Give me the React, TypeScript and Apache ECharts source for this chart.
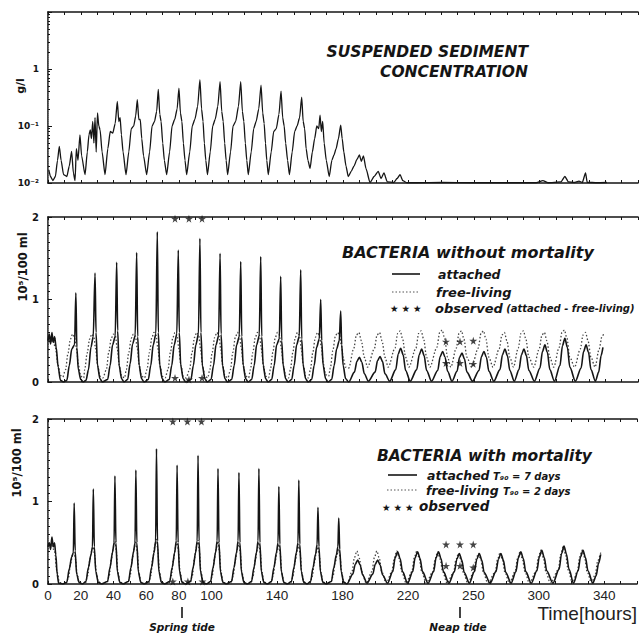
import React, { useEffect, useRef } from "react";
import * as echarts from "echarts";

// ---------- data (time in hours, value) ----------
const sediment: [number, number][] = [
  [0.5, 0.017], [1.5, 0.013], [3, 0.011], [4.5, 0.013], [5.8, 0.025], [6.9, 0.044], [8, 0.025], [9.5, 0.014],
  [11.5, 0.013], [13, 0.02], [14.4, 0.036], [15.5, 0.015], [16.5, 0.011], [17.3, 0.04], [18.3, 0.025], [19.5, 0.07],
  [20.5, 0.03], [22.6, 0.014], [24, 0.035], [25, 0.07], [25.8, 0.085], [26.5, 0.06], [27.3, 0.12], [28, 0.05],
  [28.7, 0.14], [29.4, 0.035], [30.2, 0.17], [31, 0.1], [31.8, 0.085], [33, 0.035], [34.8, 0.014],
  [36.5, 0.04], [38, 0.08], [39.5, 0.075], [41, 0.11], [42.3, 0.27], [43.2, 0.12], [44, 0.14], [44.8, 0.07], [45.8, 0.035], [47.6, 0.014],
  [49.3, 0.035], [50.8, 0.09], [52.3, 0.1], [53.5, 0.15], [54.5, 0.29], [55.4, 0.13], [56.3, 0.13], [57.2, 0.06], [58.3, 0.03], [60.2, 0.014],
  [62, 0.035], [63.5, 0.1], [65, 0.12], [66.3, 0.18], [67.3, 0.44], [68.2, 0.16], [69, 0.12], [70, 0.05], [71, 0.025], [72.4, 0.014],
  [74.2, 0.035], [75.7, 0.1], [77.3, 0.13], [78.8, 0.2], [79.9, 0.46], [80.8, 0.17], [81.7, 0.12], [82.6, 0.05], [83.6, 0.025], [84.6, 0.014],
  [86.5, 0.035], [88, 0.1], [89.6, 0.13], [91.3, 0.22], [92.7, 0.65], [93.7, 0.2], [94.6, 0.12], [95.4, 0.05], [96.3, 0.025], [97.3, 0.014],
  [99, 0.035], [100.5, 0.1], [102, 0.13], [103.6, 0.22], [105, 0.6], [106, 0.18], [106.9, 0.12], [107.8, 0.05], [108.7, 0.025], [109.6, 0.014],
  [111.4, 0.035], [112.9, 0.1], [114.5, 0.12], [116.2, 0.22], [117.6, 0.6], [118.6, 0.18], [119.5, 0.12], [120.4, 0.05], [121.3, 0.025], [122.2, 0.014],
  [124, 0.035], [125.5, 0.09], [127, 0.12], [128.6, 0.2], [130, 0.52], [131, 0.17], [131.9, 0.11], [132.7, 0.05], [133.5, 0.025], [134.4, 0.014],
  [136.2, 0.035], [137.7, 0.08], [139.3, 0.09], [140.9, 0.16], [142.2, 0.41], [143.2, 0.14], [144.1, 0.1], [145, 0.05], [146.2, 0.025], [147.3, 0.014],
  [149, 0.035], [150.5, 0.08], [152, 0.1], [153.5, 0.14], [154.8, 0.32], [155.7, 0.12], [156.6, 0.09], [157.5, 0.04], [158.6, 0.025], [159.9, 0.018],
  [161.3, 0.035], [162.7, 0.06], [164, 0.1], [165.2, 0.09], [166, 0.155], [166.8, 0.08], [167.6, 0.12], [168.5, 0.05], [169.8, 0.025], [171.6, 0.013],
  [173.2, 0.025], [174.5, 0.031], [175.8, 0.04], [177.2, 0.06], [178.6, 0.104], [179.5, 0.06], [180.5, 0.035], [181.8, 0.02], [183.2, 0.013],
  [185, 0.016], [186.8, 0.02], [188.5, 0.026], [190, 0.031], [191.2, 0.024], [192.5, 0.03], [194, 0.018], [196.5, 0.0102],
  [199, 0.013], [201.5, 0.016], [203.2, 0.012], [205, 0.015], [207, 0.0105],
  [211, 0.0102], [213, 0.012], [214.8, 0.014], [216.5, 0.011], [219, 0.0101],
  [225, 0.0101], [240, 0.0102], [260, 0.0101], [280, 0.0101], [298, 0.0101], [302, 0.011], [305, 0.0101],
  [313, 0.0105], [315.4, 0.013], [317.5, 0.0105], [321, 0.0102], [324, 0.0108], [326, 0.0102], [328, 0.015],
  [329, 0.0103], [335, 0.0101], [341, 0.0102],
];

// Middle panel: bacteria without mortality
const attachedNoMort: [number, number][] = [
  [0, 0.5], [0.8, 0.58], [1.6, 0.46], [2.4, 0.6], [3.2, 0.48], [4, 0.55], [5, 0.42], [6.2, 0.18], [7.6, 0.02], [9.5, 0],
  [11.5, 0.02], [13, 0.2], [14.5, 0.4], [16.2, 0.45], [17, 1.08], [17.6, 0.42], [18.5, 0.15], [20, 0.03], [21.5, 0],
  [23.2, 0.02], [24.7, 0.15], [26.2, 0.42], [27.6, 0.55], [28.7, 1.32], [29.3, 0.6], [30.2, 0.2], [31.7, 0.04], [33.2, 0],
  [36.4, 0.03], [37.9, 0.2], [39.4, 0.45], [41, 0.55], [41.9, 1.45], [42.5, 0.62], [43.4, 0.2], [44.9, 0.04], [46.4, 0],
  [48.6, 0.03], [50.1, 0.22], [51.6, 0.46], [53.2, 0.56], [54.1, 1.57], [54.7, 0.55], [55.6, 0.2], [57.1, 0.04], [58.6, 0],
  [61.2, 0.03], [62.7, 0.2], [64.2, 0.45], [65.8, 0.58], [66.7, 1.82], [67.3, 0.6], [68.2, 0.2], [69.7, 0.04], [71.2, 0],
  [74, 0.03], [75.5, 0.2], [77, 0.45], [78.6, 0.58], [79.5, 1.6], [80.1, 0.6], [81, 0.2], [82.5, 0.04], [84, 0],
  [87.2, 0.03], [88.7, 0.2], [90.2, 0.45], [91.8, 0.58], [92.7, 1.74], [93.3, 0.6], [94.2, 0.2], [95.7, 0.04], [97.2, 0],
  [99.5, 0.03], [101, 0.2], [102.5, 0.45], [104.1, 0.56], [105, 1.56], [105.6, 0.58], [106.5, 0.2], [108, 0.04], [109.5, 0],
  [112.1, 0.03], [113.6, 0.2], [115.1, 0.45], [116.7, 0.55], [117.6, 1.46], [118.2, 0.55], [119.1, 0.2], [120.6, 0.04], [122.1, 0],
  [124.3, 0.03], [125.8, 0.2], [127.3, 0.45], [128.9, 0.56], [129.8, 1.52], [130.4, 0.55], [131.3, 0.2], [132.8, 0.04], [134.3, 0],
  [136.5, 0.03], [138, 0.2], [139.5, 0.45], [141.1, 0.52], [142, 1.28], [142.6, 0.5], [143.5, 0.2], [145, 0.04], [146.5, 0],
  [148.7, 0.03], [150.2, 0.2], [151.7, 0.45], [153.3, 0.55], [154.2, 1.36], [154.8, 0.52], [155.7, 0.2], [157.2, 0.04], [158.7, 0],
  [160.9, 0.03], [162.4, 0.2], [163.9, 0.42], [165.5, 0.52], [166.4, 1.0], [167, 0.5], [167.9, 0.2], [169.4, 0.04], [170.9, 0],
  [173.1, 0.03], [174.6, 0.2], [176.1, 0.4], [177.7, 0.5], [178.6, 0.86], [179.2, 0.45], [180.1, 0.2], [181.6, 0.04], [183.5, 0],
  [187, 0.12], [188.5, 0.25], [190, 0.3], [191.5, 0.24], [193, 0.1], [195.5, 0.01],
  [199.6, 0.12], [201.1, 0.26], [202.6, 0.31], [204.1, 0.25], [205.6, 0.1], [208.5, 0.01],
  [212.2, 0.15], [213.7, 0.34], [215.2, 0.41], [216.7, 0.33], [218.2, 0.14], [221, 0.01],
  [225, 0.15], [226.5, 0.33], [228, 0.4], [229.5, 0.32], [231, 0.14], [234, 0.01],
  [237.8, 0.14], [239.3, 0.31], [240.8, 0.37], [242.3, 0.3], [243.8, 0.13], [246.5, 0.01],
  [249.6, 0.13], [251.1, 0.3], [252.6, 0.35], [254.1, 0.28], [255.6, 0.12], [259, 0.01],
  [263, 0.14], [264.5, 0.31], [266, 0.37], [267.5, 0.3], [269, 0.13], [272, 0.01],
  [275.8, 0.15], [277.3, 0.33], [278.8, 0.4], [280.3, 0.32], [281.8, 0.14], [284.5, 0.01],
  [287.4, 0.15], [288.9, 0.33], [290.4, 0.4], [291.9, 0.32], [293.4, 0.14], [296.8, 0.01],
  [300.2, 0.17], [301.7, 0.37], [303.2, 0.45], [304.7, 0.36], [306.2, 0.15], [309, 0.01],
  [312.4, 0.2], [313.9, 0.44], [315.4, 0.53], [316.9, 0.42], [318.4, 0.18], [321.8, 0.01],
  [325.3, 0.17], [326.8, 0.37], [328.3, 0.45], [329.8, 0.36], [331.3, 0.15], [334, 0.01],
  [336, 0.12], [337.5, 0.32], [338.6, 0.42],
];

const freeNoMort: [number, number][] = [
  [0, 0.45], [1.5, 0.55], [3, 0.5], [4.5, 0.42], [6, 0.22], [7.5, 0.08], [9, 0.06],
  [10.7, 0.15], [12.2, 0.35], [13.7, 0.52], [15, 0.58], [16.2, 0.55], [17.4, 0.4], [18.6, 0.2], [20, 0.07], [21.8, 0.05],
  [22.4, 0.15], [23.9, 0.35], [25.4, 0.52], [26.7, 0.58], [27.9, 0.55], [29.1, 0.4], [30.3, 0.2], [31.7, 0.07], [33.5, 0.05],
  [35.6, 0.15], [37.1, 0.36], [38.6, 0.53], [39.9, 0.58], [41.1, 0.56], [42.3, 0.4], [43.5, 0.2], [44.9, 0.07], [46.7, 0.05],
  [47.8, 0.15], [49.3, 0.36], [50.8, 0.53], [52.1, 0.58], [53.3, 0.56], [54.5, 0.4], [55.7, 0.2], [57.1, 0.07], [58.9, 0.05],
  [60.4, 0.15], [61.9, 0.36], [63.4, 0.54], [64.7, 0.6], [65.9, 0.57], [67.1, 0.4], [68.3, 0.2], [69.7, 0.07], [71.5, 0.05],
  [73.2, 0.15], [74.7, 0.36], [76.2, 0.54], [77.5, 0.6], [78.7, 0.57], [79.9, 0.4], [81.1, 0.2], [82.5, 0.07], [84.3, 0.05],
  [86.4, 0.15], [87.9, 0.36], [89.4, 0.54], [90.7, 0.6], [91.9, 0.57], [93.1, 0.4], [94.3, 0.2], [95.7, 0.07], [97.5, 0.05],
  [98.7, 0.15], [100.2, 0.36], [101.7, 0.54], [103, 0.6], [104.2, 0.57], [105.4, 0.4], [106.6, 0.2], [108, 0.07], [109.8, 0.05],
  [111.3, 0.15], [112.8, 0.36], [114.3, 0.54], [115.6, 0.6], [116.8, 0.57], [118, 0.4], [119.2, 0.2], [120.6, 0.07], [122.4, 0.05],
  [123.5, 0.15], [125, 0.36], [126.5, 0.54], [127.8, 0.6], [129, 0.57], [130.2, 0.4], [131.4, 0.2], [132.8, 0.07], [134.6, 0.05],
  [135.7, 0.15], [137.2, 0.36], [138.7, 0.54], [140, 0.6], [141.2, 0.57], [142.4, 0.4], [143.6, 0.2], [145, 0.07], [146.8, 0.05],
  [147.9, 0.15], [149.4, 0.36], [150.9, 0.54], [152.2, 0.6], [153.4, 0.57], [154.6, 0.4], [155.8, 0.2], [157.2, 0.07], [159, 0.05],
  [160.1, 0.15], [161.6, 0.36], [163.1, 0.54], [164.4, 0.6], [165.6, 0.57], [166.8, 0.42], [168, 0.22], [169.4, 0.09], [171.2, 0.07],
  [172.3, 0.17], [173.8, 0.38], [175.3, 0.55], [176.6, 0.6], [177.8, 0.58], [179, 0.45], [180.2, 0.28], [181.6, 0.18], [183.5, 0.17],
  [186.5, 0.4], [188.2, 0.57], [189.7, 0.6], [191.2, 0.5], [193, 0.3], [195, 0.18],
  [199.1, 0.4], [200.8, 0.57], [202.3, 0.6], [203.8, 0.5], [205.6, 0.3], [207.6, 0.18],
  [211.7, 0.41], [213.4, 0.59], [214.9, 0.62], [216.4, 0.52], [218.2, 0.3], [220.2, 0.18],
  [224.5, 0.41], [226.2, 0.59], [227.7, 0.62], [229.2, 0.52], [231, 0.3], [233, 0.18],
  [237.3, 0.42], [239, 0.6], [240.5, 0.63], [242, 0.53], [243.8, 0.3], [245.8, 0.18],
  [249.1, 0.41], [250.8, 0.59], [252.3, 0.62], [253.8, 0.52], [255.6, 0.3], [258.5, 0.18],
  [262.5, 0.41], [264.2, 0.59], [265.7, 0.62], [267.2, 0.52], [269, 0.3], [271.5, 0.18],
  [275.3, 0.4], [277, 0.57], [278.5, 0.6], [280, 0.5], [281.8, 0.3], [284, 0.18],
  [286.9, 0.41], [288.6, 0.59], [290.1, 0.62], [291.6, 0.52], [293.4, 0.3], [296.4, 0.18],
  [299.7, 0.4], [301.4, 0.57], [302.9, 0.6], [304.4, 0.5], [306.2, 0.3], [308.6, 0.18],
  [311.9, 0.42], [313.6, 0.6], [315.1, 0.63], [316.6, 0.53], [318.4, 0.3], [321.3, 0.18],
  [324.8, 0.4], [326.5, 0.57], [328, 0.6], [329.5, 0.5], [331.3, 0.3], [333.8, 0.18],
  [336.3, 0.4], [338, 0.55], [339, 0.58],
];

const observedNoMort: [number, number][] = [
  [2.5, 0.52],
  [77.5, 1.98], [86, 1.98], [94, 1.98],
  [77.5, 0.05], [86, 0.03], [94, 0.05],
  [242.8, 0.49], [251.4, 0.49], [259.5, 0.5],
  [242.8, 0.23], [251.4, 0.23], [259.5, 0.22],
];

// Bottom panel: bacteria with mortality
const attachedMort: [number, number][] = [
  [0, 0.45], [0.8, 0.5], [1.6, 0.42], [2.4, 0.57], [3.2, 0.45], [4, 0.5], [4.8, 0.35], [5.6, 0.12], [6.5, 0.01], [9, 0],
  [11.5, 0.02], [13, 0.18], [14.5, 0.33], [15.5, 0.38], [16, 0.98], [16.6, 0.4], [17.5, 0.12], [19, 0.02], [21, 0],
  [23.2, 0.03], [24.7, 0.2], [26.2, 0.35], [27.2, 0.45], [27.7, 1.15], [28.3, 0.45], [29.2, 0.15], [30.7, 0.02], [32.7, 0],
  [36.4, 0.03], [37.9, 0.2], [39.4, 0.38], [40.4, 0.5], [40.9, 1.31], [41.5, 0.5], [42.4, 0.15], [43.9, 0.02], [45.9, 0],
  [49.2, 0.03], [50.7, 0.2], [52.2, 0.38], [53.2, 0.5], [53.7, 1.38], [54.3, 0.5], [55.2, 0.15], [56.7, 0.02], [58.7, 0],
  [61.8, 0.03], [63.3, 0.2], [64.8, 0.38], [65.8, 0.52], [66.3, 1.64], [66.9, 0.52], [67.8, 0.15], [69.3, 0.02], [71.3, 0],
  [74.4, 0.03], [75.9, 0.2], [77.4, 0.38], [78.4, 0.52], [78.9, 1.44], [79.5, 0.5], [80.4, 0.15], [81.9, 0.02], [83.9, 0],
  [87.2, 0.03], [88.7, 0.2], [90.2, 0.38], [91.2, 0.52], [91.7, 1.56], [92.3, 0.52], [93.2, 0.15], [94.7, 0.02], [96.7, 0],
  [99.4, 0.03], [100.9, 0.2], [102.4, 0.38], [103.4, 0.52], [103.9, 1.4], [104.5, 0.5], [105.4, 0.15], [106.9, 0.02], [108.9, 0],
  [112.2, 0.03], [113.7, 0.2], [115.2, 0.38], [116.2, 0.52], [116.7, 1.35], [117.3, 0.5], [118.2, 0.15], [119.7, 0.02], [121.7, 0],
  [124.4, 0.03], [125.9, 0.2], [127.4, 0.38], [128.4, 0.52], [128.9, 1.4], [129.5, 0.5], [130.4, 0.15], [131.9, 0.02], [133.9, 0],
  [136.6, 0.03], [138.1, 0.2], [139.6, 0.38], [140.6, 0.5], [141.1, 1.18], [141.7, 0.48], [142.6, 0.15], [144.1, 0.02], [146.1, 0],
  [148.8, 0.03], [150.3, 0.2], [151.8, 0.38], [152.8, 0.5], [153.3, 1.26], [153.9, 0.48], [154.8, 0.15], [156.3, 0.02], [158.3, 0],
  [160.5, 0.03], [162, 0.2], [163.5, 0.36], [164.5, 0.48], [165, 0.93], [165.6, 0.45], [166.5, 0.15], [168, 0.02], [170, 0],
  [173.2, 0.03], [174.7, 0.2], [176.2, 0.35], [177.2, 0.45], [177.7, 0.8], [178.3, 0.42], [179.2, 0.15], [180.7, 0.02], [182.7, 0],
  [186.3, 0.12], [187.8, 0.24], [189.3, 0.29], [190.8, 0.23], [192.3, 0.11], [195, 0.01],
  [198.5, 0.12], [200, 0.24], [201.5, 0.29], [203, 0.23], [204.5, 0.11], [207.5, 0.01],
  [210.7, 0.15], [212.2, 0.32], [213.7, 0.39], [215.2, 0.31], [216.7, 0.15], [219.8, 0.01],
  [222.9, 0.15], [224.4, 0.32], [225.9, 0.39], [227.4, 0.31], [228.9, 0.15], [232.3, 0.01],
  [235.7, 0.15], [237.2, 0.32], [238.7, 0.39], [240.2, 0.31], [241.7, 0.15], [245, 0.01],
  [248.4, 0.15], [249.9, 0.3], [251.4, 0.37], [252.9, 0.29], [254.4, 0.14], [257.5, 0.01],
  [260.6, 0.15], [262.1, 0.3], [263.6, 0.37], [265.1, 0.29], [266.6, 0.14], [270.2, 0.01],
  [273.8, 0.15], [275.3, 0.3], [276.8, 0.37], [278.3, 0.29], [279.8, 0.14], [283, 0.01],
  [286, 0.15], [287.5, 0.32], [289, 0.39], [290.5, 0.31], [292, 0.15], [295.4, 0.01],
  [298.8, 0.16], [300.3, 0.33], [301.8, 0.41], [303.3, 0.32], [304.8, 0.16], [308.6, 0.01],
  [312.4, 0.18], [313.9, 0.37], [315.4, 0.46], [316.9, 0.36], [318.4, 0.18], [321.2, 0.01],
  [324, 0.16], [325.5, 0.33], [327, 0.41], [328.5, 0.32], [330, 0.16], [333, 0.01],
  [335, 0.1], [336.5, 0.25], [337.8, 0.36],
];

const freeMort: [number, number][] = [
  [0, 0.42], [2, 0.48], [4, 0.4], [5.5, 0.15], [7, 0.02], [9.5, 0],
  [11, 0], [12.5, 0.08], [13.8, 0.25], [15, 0.35], [16, 0.38], [16.8, 0.3], [17.8, 0.12], [19, 0.02], [21, 0],
  [22.7, 0], [24.2, 0.1], [25.5, 0.28], [26.7, 0.4], [27.7, 0.45], [28.5, 0.35], [29.5, 0.14], [30.7, 0.03], [32.7, 0],
  [35.9, 0], [37.4, 0.1], [38.7, 0.3], [39.9, 0.44], [40.9, 0.52], [41.7, 0.4], [42.7, 0.15], [43.9, 0.03], [45.9, 0],
  [48.7, 0], [50.2, 0.1], [51.5, 0.3], [52.7, 0.44], [53.7, 0.52], [54.5, 0.4], [55.5, 0.15], [56.7, 0.03], [58.7, 0],
  [61.3, 0], [62.8, 0.1], [64.1, 0.32], [65.3, 0.46], [66.3, 0.55], [67.1, 0.42], [68.1, 0.15], [69.3, 0.03], [71.3, 0],
  [73.9, 0], [75.4, 0.1], [76.7, 0.3], [77.9, 0.44], [78.9, 0.52], [79.7, 0.4], [80.7, 0.15], [81.9, 0.03], [83.9, 0],
  [86.7, 0], [88.2, 0.1], [89.5, 0.31], [90.7, 0.45], [91.7, 0.53], [92.5, 0.4], [93.5, 0.15], [94.7, 0.03], [96.7, 0],
  [98.9, 0], [100.4, 0.1], [101.7, 0.3], [102.9, 0.44], [103.9, 0.52], [104.7, 0.4], [105.7, 0.15], [106.9, 0.03], [108.9, 0],
  [111.7, 0], [113.2, 0.1], [114.5, 0.29], [115.7, 0.42], [116.7, 0.5], [117.5, 0.38], [118.5, 0.15], [119.7, 0.03], [121.7, 0],
  [123.9, 0], [125.4, 0.1], [126.7, 0.29], [127.9, 0.42], [128.9, 0.5], [129.7, 0.38], [130.7, 0.15], [131.9, 0.03], [133.9, 0],
  [136.1, 0], [137.6, 0.1], [138.9, 0.28], [140.1, 0.4], [141.1, 0.48], [141.9, 0.37], [142.9, 0.14], [144.1, 0.03], [146.1, 0],
  [148.3, 0], [149.8, 0.1], [151.1, 0.28], [152.3, 0.4], [153.3, 0.48], [154.1, 0.37], [155.1, 0.14], [156.3, 0.03], [158.3, 0],
  [160, 0], [161.5, 0.09], [162.8, 0.26], [164, 0.38], [165, 0.45], [165.8, 0.35], [166.8, 0.14], [168, 0.03], [170, 0],
  [172.7, 0], [174.2, 0.09], [175.5, 0.25], [176.7, 0.36], [177.7, 0.42], [178.5, 0.33], [179.5, 0.14], [180.7, 0.03], [182.7, 0],
  [185.8, 0.15], [187.3, 0.32], [188.8, 0.4], [190.3, 0.31], [191.8, 0.15], [194.5, 0.01],
  [198, 0.15], [199.5, 0.32], [201, 0.4], [202.5, 0.31], [204, 0.15], [206.7, 0.01],
  [210.2, 0.15], [211.7, 0.32], [213.2, 0.4], [214.7, 0.31], [216.2, 0.15], [218.9, 0.01],
  [222.4, 0.15], [223.9, 0.32], [225.4, 0.4], [226.9, 0.31], [228.4, 0.15], [231.1, 0.01],
  [235.2, 0.15], [236.7, 0.31], [238.2, 0.39], [239.7, 0.3], [241.2, 0.15], [243.9, 0.01],
  [247.9, 0.14], [249.4, 0.3], [250.9, 0.37], [252.4, 0.29], [253.9, 0.14], [256.6, 0.01],
  [260.1, 0.14], [261.6, 0.3], [263.1, 0.37], [264.6, 0.29], [266.1, 0.14], [268.8, 0.01],
  [273.3, 0.14], [274.8, 0.3], [276.3, 0.38], [277.8, 0.29], [279.3, 0.14], [282, 0.01],
  [285.5, 0.15], [287, 0.31], [288.5, 0.39], [290, 0.3], [291.5, 0.15], [294.2, 0.01],
  [298.3, 0.15], [299.8, 0.33], [301.3, 0.41], [302.8, 0.32], [304.3, 0.15], [307, 0.01],
  [311.9, 0.17], [313.4, 0.36], [314.9, 0.45], [316.4, 0.35], [317.9, 0.17], [320.6, 0.01],
  [323.5, 0.15], [325, 0.33], [326.5, 0.41], [328, 0.32], [329.5, 0.15], [332.2, 0.01],
  [334.5, 0.12], [336, 0.28], [337.8, 0.38],
];

const observedMort: [number, number][] = [
  [76.3, 1.97], [85.2, 1.97], [93.8, 1.97],
  [76.3, 0.03], [85.5, 0.03], [94.4, 0.03],
  [243.3, 0.48], [251.8, 0.48], [259.9, 0.48],
  [243.3, 0.22], [251.8, 0.22], [259.9, 0.2],
];

const xTickValues = [0, 20, 40, 60, 80, 100, 140, 180, 220, 260, 300, 340];
const xTickTexts = ["0", "20", "40", "60", "80", "100", "140", "180", "220", "250", "300", "340"];

// ---------- layout / style ----------
const STAR = "path://M50,0 L61,35 L98,35 L68,57 L79,91 L50,70 L21,91 L32,57 L2,35 L39,35 Z";
const INK = "#151515";
const TITLE_FONT = 'italic bold 15.5px "DejaVu Sans"';
const GRIDS = [
  { top: 12, height: 171 },
  { top: 217, height: 165 },
  { top: 419, height: 165 },
];

function buildOption() {
  const grid = GRIDS.map((g) => ({ left: 48, width: 590, top: g.top, height: g.height, show: false }));

  const xAxis: any[] = [];
  GRIDS.forEach((_, i) => {
    ["bottom", "top"].forEach((pos) => {
      const showLabels = i === 2 && pos === "bottom";
      xAxis.push({
        type: "value",
        gridIndex: i,
        position: pos,
        min: 0,
        max: 360,
        interval: 10,
        axisLine: { show: true, onZero: false, lineStyle: { color: INK, width: 1.6 } },
        axisTick: { show: true, inside: true, length: 3, lineStyle: { color: INK, width: 1 } },
        splitLine: { show: false },
        axisLabel: showLabels
          ? {
              show: true,
              interval: 0,
              margin: 4,
              color: "#222",
              fontSize: 13.5,
              fontFamily: "Liberation Sans",
              formatter: (v: number) => {
                const k = xTickValues.indexOf(Math.round(v));
                return k >= 0 ? xTickTexts[k] : "";
              },
            }
          : { show: false },
      });
    });
  });

  const leftLabel = {
    show: true,
    margin: 9,
    color: INK,
    fontSize: 10,
    fontWeight: "bold",
    fontFamily: "DejaVu Sans",
  };
  const yAxis: any[] = [];
  // top (log)
  yAxis.push({
    type: "log",
    logBase: 10,
    gridIndex: 0,
    position: "left",
    min: 0.01,
    max: 10,
    axisLine: { show: true, lineStyle: { color: INK, width: 1.6 } },
    axisTick: { show: true, inside: true, length: 4, lineStyle: { color: INK } },
    minorTick: { show: true, splitNumber: 9, length: 2, lineStyle: { color: INK } },
    splitLine: { show: false },
    minorSplitLine: { show: false },
    axisLabel: {
      ...leftLabel,
      fontSize: 9,
      formatter: (v: number) => {
        const e = Math.round(Math.log10(v));
        if (e === -2) return "10⁻²";
        if (e === -1) return "10⁻¹";
        if (e === 0) return "1";
        return "";
      },
    },
  });
  yAxis.push({
    type: "log",
    logBase: 10,
    gridIndex: 0,
    position: "right",
    min: 0.01,
    max: 10,
    axisLine: { show: true, lineStyle: { color: "#777", width: 1, type: "dotted" } },
    axisTick: { show: false },
    axisLabel: { show: false },
    splitLine: { show: false },
  });
  [1, 2].forEach((gi) => {
    yAxis.push({
      type: "value",
      gridIndex: gi,
      position: "left",
      min: 0,
      max: 2,
      interval: 1,
      axisLine: { show: true, lineStyle: { color: INK, width: 1.6 } },
      axisTick: { show: true, inside: true, length: 4, lineStyle: { color: INK } },
      minorTick: { show: true, splitNumber: 10, length: 2, lineStyle: { color: INK } },
      splitLine: { show: false },
      minorSplitLine: { show: false },
      axisLabel: leftLabel,
    });
    yAxis.push({
      type: "value",
      gridIndex: gi,
      position: "right",
      min: 0,
      max: 2,
      interval: 1,
      axisLine: { show: true, lineStyle: { color: "#777", width: 1, type: "dotted" } },
      axisTick: { show: false },
      axisLabel: { show: false },
      splitLine: { show: false },
    });
  });

  const solid = (data: [number, number][], xi: number, yi: number) => ({
    type: "line",
    xAxisIndex: xi,
    yAxisIndex: yi,
    data,
    showSymbol: false,
    smooth: 0.3,
    smoothMonotone: "x",
    lineStyle: { color: INK, width: 1.6 },
    z: 3,
  });
  const dotted = (data: [number, number][], xi: number, yi: number) => ({
    type: "line",
    xAxisIndex: xi,
    yAxisIndex: yi,
    data,
    showSymbol: false,
    smooth: 0.3,
    smoothMonotone: "x",
    lineStyle: { color: "#444", width: 1.3, type: [1.5, 2] },
    z: 2,
  });
  const stars = (data: [number, number][], xi: number, yi: number) => ({
    type: "scatter",
    xAxisIndex: xi,
    yAxisIndex: yi,
    data,
    symbol: STAR,
    symbolSize: 8,
    clip: false,
    itemStyle: { color: INK },
    z: 4,
  });

  const series = [
    {
      type: "line",
      xAxisIndex: 0,
      yAxisIndex: 0,
      data: sediment,
      showSymbol: false,
      smooth: 0.2,
      smoothMonotone: "x",
      lineStyle: { color: INK, width: 1.3 },
    },
    dotted(freeNoMort, 2, 2),
    solid(attachedNoMort, 2, 2),
    stars(observedNoMort, 2, 2),
    dotted(freeMort, 4, 4),
    solid(attachedMort, 4, 4),
    stars(observedMort, 4, 4),
  ];

  const txt = (x: number, y: number, text: string, font: string, align = "left", extra: any = {}) => ({
    type: "text",
    x,
    y,
    silent: true,
    style: { text, font, fill: INK, textAlign: align, textVerticalAlign: "middle", ...extra },
  });
  const legendLine = (x1: number, x2: number, y: number, dashed: boolean) => ({
    type: "line",
    silent: true,
    shape: { x1, y1: y, x2, y2: y },
    style: dashed
      ? { stroke: "#555", lineWidth: 1.2, lineDash: [1.5, 2] }
      : { stroke: INK, lineWidth: 1.6 },
  });

  const graphic = [
    // top panel
    txt(528, 52, "SUSPENDED SEDIMENT", TITLE_FONT, "right"),
    txt(528, 72, "CONCENTRATION", TITLE_FONT, "right"),
    { ...txt(20, 86, "g/l", 'bold 11px "DejaVu Sans"', "center"), rotation: Math.PI / 2 },
    // middle panel
    txt(342, 252, "BACTERIA without mortality", 'italic bold 16px "DejaVu Sans"'),
    legendLine(392, 420, 274, false),
    txt(438, 274, "attached", 'italic bold 12.5px "DejaVu Sans"'),
    legendLine(392, 420, 292, true),
    txt(436, 292, "free-living", 'italic bold 13px "DejaVu Sans"'),
    txt(390, 308, "★ ★ ★", '9.5px "DejaVu Sans"'),
    {
      type: "text",
      x: 435,
      y: 308,
      silent: true,
      style: {
        text: "{a|observed} {b|(attached - free-living)}",
        fill: INK,
        textVerticalAlign: "middle",
        rich: {
          a: { font: 'italic bold 13px "DejaVu Sans"', fill: INK },
          b: { font: 'italic bold 10px "DejaVu Sans"', fill: INK },
        },
      },
    },
    { ...txt(23, 267, "10⁵/100 ml", 'bold 11.5px "DejaVu Sans"', "center"), rotation: Math.PI / 2 },
    // bottom panel
    txt(377, 456, "BACTERIA with mortality", TITLE_FONT),
    legendLine(388, 417, 475, false),
    txt(427, 475, "attached", 'italic bold 12.5px "DejaVu Sans"'),
    txt(493, 476, "T₉₀ = 7 days", 'italic bold 10px "DejaVu Sans"'),
    legendLine(387, 417, 490, true),
    txt(426, 490, "free-living", 'italic bold 12.5px "DejaVu Sans"'),
    txt(503, 491, "T₉₀ = 2 days", 'italic bold 10px "DejaVu Sans"'),
    txt(382, 507, "★ ★ ★", '9.5px "DejaVu Sans"'),
    txt(419, 506, "observed", 'italic bold 13.5px "DejaVu Sans"'),
    { ...txt(17, 463, "10⁵/100 ml", 'bold 11.5px "DejaVu Sans"', "center"), rotation: Math.PI / 2 },
    // x axis annotations
    txt(637, 613, "Time[hours]", '19px "Liberation Sans"', "right", { fill: "#222" }),
    { type: "line", silent: true, shape: { x1: 182, y1: 607, x2: 182, y2: 618 }, style: { stroke: INK, lineWidth: 1.6 } },
    txt(182, 627, "Spring tide", 'italic bold 10.5px "DejaVu Sans"', "center"),
    { type: "line", silent: true, shape: { x1: 460, y1: 607, x2: 460, y2: 618 }, style: { stroke: INK, lineWidth: 1.6 } },
    txt(458, 627, "Neap tide", 'italic bold 10.5px "DejaVu Sans"', "center"),
  ];

  return {
    animation: false,
    backgroundColor: "#ffffff",
    grid,
    xAxis,
    yAxis,
    series,
    graphic,
  };
}

export default function App() {
  const ref = useRef<HTMLDivElement>(null);
  useEffect(() => {
    if (!ref.current) return;
    const chart = echarts.init(ref.current, null, { renderer: "svg" });
    chart.setOption(buildOption() as any);
    return () => chart.dispose();
  }, []);
  return (
    <div
      ref={ref}
      style={{ position: "absolute", left: 0, top: 0, width: 640, height: 633, background: "#fff" }}
    />
  );
}
